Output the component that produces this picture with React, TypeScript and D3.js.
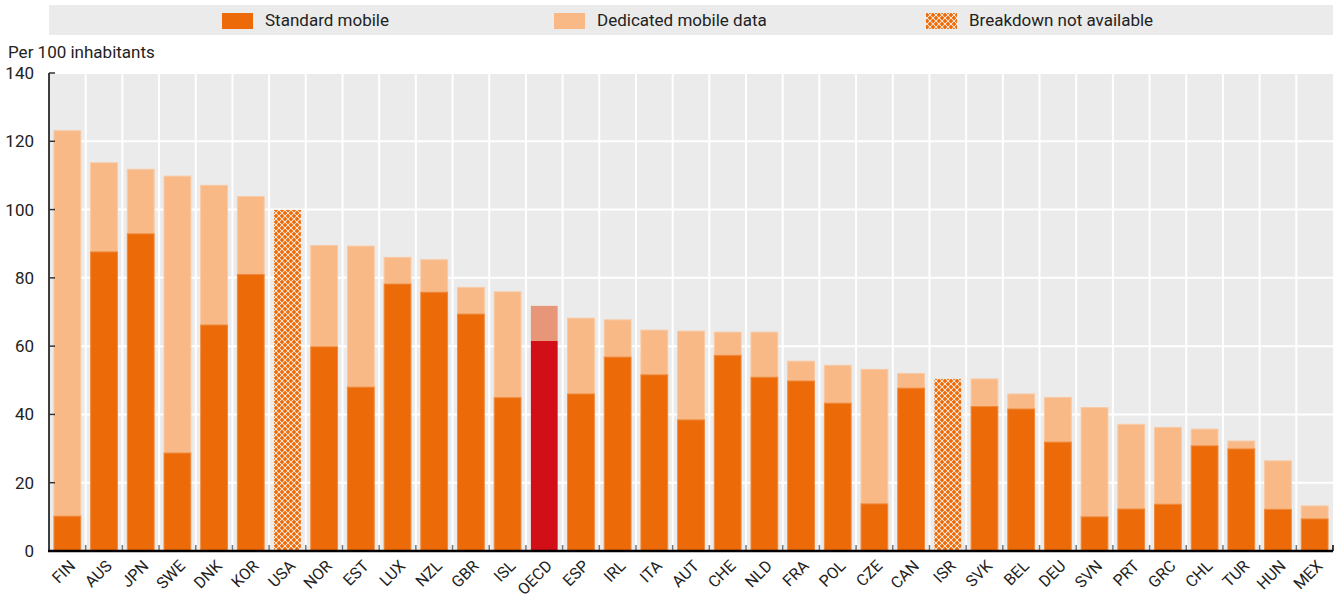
import React from "react";
import * as d3 from "d3";

const countries = ["FIN","AUS","JPN","SWE","DNK","KOR","USA","NOR","EST","LUX","NZL","GBR","ISL","OECD","ESP","IRL","ITA","AUT","CHE","NLD","FRA","POL","CZE","CAN","ISR","SVK","BEL","DEU","SVN","PRT","GRC","CHL","TUR","HUN","MEX"];
// total subscriptions per 100 inhabitants
const totals = [123.1,113.7,111.8,109.8,107.1,103.8,99.9,89.5,89.3,86.0,85.3,77.2,75.9,71.8,68.2,67.7,64.7,64.4,64.1,64.1,55.6,54.4,53.2,52.0,50.4,50.4,46.0,45.0,42.0,37.1,36.2,35.7,32.2,26.4,13.2];
// standard mobile (null = breakdown not available)
const standard: (number | null)[] = [10.2,87.6,92.9,28.7,66.2,81.0,null,59.8,48.0,78.2,75.8,69.4,44.9,61.5,46.0,56.8,51.6,38.4,57.3,50.9,49.8,43.3,13.8,47.7,null,42.3,41.6,31.9,10.0,12.3,13.7,30.8,29.9,12.2,9.4];
const yTicks = [0,20,40,60,80,100,120,140];
const legendItems = ["Standard mobile","Dedicated mobile data","Breakdown not available"];

const FONT = "'Liberation Sans Narrow', 'Arial Narrow', 'Roboto', sans-serif";
const C_STD = "#ec6a08";
const C_DED = "#f8b987";
const C_OECD_STD = "#d20f16";
const C_OECD_DED = "#e8967a";
const BG = "#ebebeb";

export default function App() {
  const W = 1340, H = 600;
  const x0 = 49, x1 = 1333, yTop = 73, yBot = 551;
  const x = d3.scaleBand<string>().domain(countries).range([x0, x1]).padding(0);
  const y = d3.scaleLinear().domain([0, 140]).range([yBot, yTop]);
  const step = x.step();
  const bw = step * 0.73;

  return (
    <svg width={W} height={H} style={{ position: "absolute", left: 0, top: 0 }} fontFamily={FONT}>
      <defs>
        <pattern id="hatch" patternUnits="userSpaceOnUse" width="6" height="6">
          <rect width="6" height="6" fill="#ffffff" />
          <path d="M3 0.6 L5.4 3 L3 5.4 L0.6 3 Z" fill={C_STD} />
          <path d="M0 -2.4 L2.4 0 L0 2.4 L-2.4 0 Z M6 -2.4 L8.4 0 L6 2.4 L3.6 0 Z M0 3.6 L2.4 6 L0 8.4 L-2.4 6 Z M6 3.6 L8.4 6 L6 8.4 L3.6 6 Z" fill={C_STD} />
        </pattern>
      </defs>
      {/* legend */}
      <rect x={49} y={5} width={1284} height={30} fill={BG} />
      {legendItems.map((t, i) => {
        const lx = [222, 554, 926][i];
        const fill = i === 0 ? C_STD : i === 1 ? C_DED : "url(#hatch)";
        return (
          <g key={t}>
            <rect x={lx} y={13} width={31} height={16} fill={fill} />
            <text x={lx + 43} y={26} fontSize={17} fill="#222">{t}</text>
          </g>
        );
      })}
      <text x={8} y={58} fontSize={17} fill="#222">Per 100 inhabitants</text>
      {/* plot background */}
      <rect x={x0} y={yTop} width={x1 - x0} height={yBot - yTop} fill={BG} />
      {yTicks.filter(v => v > 0).map(v => (
        <line key={"h" + v} x1={x0} x2={x1} y1={y(v)} y2={y(v)} stroke="#fff" strokeWidth={2} />
      ))}
      {countries.slice(1).map(c => (
        <line key={"v" + c} x1={x(c)!} x2={x(c)!} y1={yTop} y2={yBot} stroke="#fff" strokeWidth={2} />
      ))}
      {/* bars */}
      {countries.map((c, i) => {
        const bx = x(c)! + (step - bw) / 2;
        const s = standard[i];
        const isO = c === "OECD";
        if (s === null) {
          return (
            <rect key={c} x={bx} y={y(totals[i])} width={bw} height={y(0) - y(totals[i])} fill="url(#hatch)" />
          );
        }
        return (
          <g key={c}>
            <rect x={bx} y={y(totals[i])} width={bw} height={y(s) - y(totals[i])}
              fill={isO ? C_OECD_DED : C_DED} stroke={isO ? "none" : "#f9c9a3"} strokeWidth={1} />
            <rect x={bx} y={y(s)} width={bw} height={y(0) - y(s)}
              fill={isO ? C_OECD_STD : C_STD} stroke={isO ? "none" : "#ef8a3c"} strokeWidth={1} />
          </g>
        );
      })}
      {/* x-axis ticks */}
      {countries.slice(1).map(c => (
        <line key={"t" + c} x1={x(c)!} x2={x(c)!} y1={yBot - 6} y2={yBot} stroke="#777" strokeWidth={1.5} />
      ))}
      <line x1={x1} x2={x1} y1={yBot - 6} y2={yBot} stroke="#000" strokeWidth={1.5} />
      {/* y axis */}
      <line x1={x0} x2={x0} y1={yTop} y2={yBot} stroke="#000" strokeWidth={1.5} />
      {yTicks.map(v => (
        <g key={"yt" + v}>
          <line x1={x0} x2={x0 + 6} y1={y(v)} y2={y(v)} stroke="#333" strokeWidth={1.5} />
          <text x={34} y={y(v)} dy="0.35em" textAnchor="end" fontSize={17} fill="#222">{v}</text>
        </g>
      ))}
      <line x1={x0 - 1} x2={x1} y1={yBot} y2={yBot} stroke="#000" strokeWidth={2.5} />
      {/* x labels */}
      {countries.map(c => {
        const cx = x(c)! + step / 2 + 1;
        const cy = yBot + 8;
        return (
          <text key={"l" + c} x={cx} y={cy} textAnchor="end" fontSize={16} fill="#222"
            transform={`rotate(-45 ${cx} ${cy})`} dy="0.7em">{c}</text>
        );
      })}
    </svg>
  );
}
